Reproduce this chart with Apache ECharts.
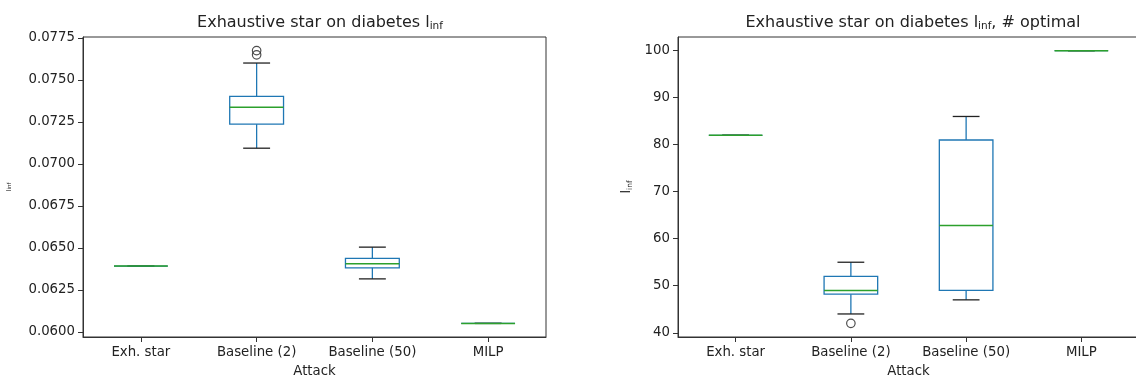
<!DOCTYPE html>
<html>
<head>
<meta charset="utf-8">
<script src="https://cdn.jsdelivr.net/npm/echarts@6/dist/echarts.min.js"></script>
<style>
html,body{margin:0;padding:0;background:#fff;}
#chart{width:1136px;height:380px;}
</style>
</head>
<body>
<div id="chart"></div>
<script>
// ---- data ----
const categories = ['Exh. star', 'Baseline (2)', 'Baseline (50)', 'MILP'];
// each entry: [lowerWhisker, Q1, median, Q3, upperWhisker]
const linfBoxes = [
  [0.06392, 0.06392, 0.06392, 0.06392, 0.06392],
  [0.07094, 0.07237, 0.07338, 0.07402, 0.07601],
  [0.06316, 0.06382, 0.06406, 0.06438, 0.06505],
  [0.06051, 0.06051, 0.06051, 0.06051, 0.06051]
];
const linfOutliers = [[1, 0.07675], [1, 0.07650]];
const linfTicks = [0.0600, 0.0625, 0.0650, 0.0675, 0.0700, 0.0725, 0.0750, 0.0775];

const optimalBoxes = [
  [82, 82, 82, 82, 82],
  [44, 48.2, 49, 52, 55],
  [47, 49, 62.8, 81, 86],
  [100, 100, 100, 100, 100]
];
const optimalOutliers = [[1, 42]];
const optimalTicks = [40, 50, 60, 70, 80, 90, 100];

// ---- chart ----
const BLUE = '#1f77b4', GREEN = '#2ca02c', DARK = '#222', AXIS = '#333';
const FONT = 'DejaVu Sans';
const FS = 13.3;

function boxData(boxes) {
  return boxes.map((b, i) => [i].concat(b));
}

function renderBox(params, api) {
  const x = api.value(0);
  const lo = api.coord([x, api.value(1)]);
  const q1 = api.coord([x, api.value(2)]);
  const md = api.coord([x, api.value(3)]);
  const q3 = api.coord([x, api.value(4)]);
  const hi = api.coord([x, api.value(5)]);
  const band = api.size([1, 0])[0];
  const bw = band * 0.465;
  const cw = bw / 2;
  const cx = md[0];
  const lw = 1.3;
  const line = (x1, y1, x2, y2, color, w) => ({
    type: 'line',
    shape: { x1, y1, x2, y2 },
    style: { stroke: color, lineWidth: w || lw }
  });
  return {
    type: 'group',
    children: [
      line(cx, q3[1], cx, hi[1], BLUE),
      line(cx, q1[1], cx, lo[1], BLUE),
      line(cx - cw / 2, hi[1], cx + cw / 2, hi[1], DARK),
      line(cx - cw / 2, lo[1], cx + cw / 2, lo[1], DARK),
      {
        type: 'rect',
        shape: { x: cx - bw / 2, y: q3[1], width: bw, height: q1[1] - q3[1] },
        style: { fill: 'none', stroke: BLUE, lineWidth: lw }
      },
      line(cx - bw / 2, md[1], cx + bw / 2, md[1], GREEN, 1.5)
    ]
  };
}

const titleStyle = {
  fontFamily: FONT, fontSize: 16, fontWeight: 'normal', color: DARK,
  rich: {
    m: { fontFamily: FONT, fontSize: 16, color: DARK },
    sub: { fontFamily: FONT, fontSize: 10.5, color: DARK, padding: [8, 0, 0, 0] }
  }
};

function xAxisCfg(gridIndex) {
  return {
    type: 'category', gridIndex, data: categories, boundaryGap: true,
    axisLine: { show: true, lineStyle: { color: AXIS, width: 1 } },
    axisTick: { show: true, alignWithLabel: true, length: 5, interval: 0, lineStyle: { color: AXIS } },
    axisLabel: { interval: 0, fontFamily: FONT, fontSize: FS, color: DARK, margin: 9 },
    splitLine: { show: false },
    name: 'Attack', nameLocation: 'middle', nameGap: 28,
    nameTextStyle: { fontFamily: FONT, fontSize: FS, color: DARK }
  };
}

const chart = echarts.init(document.getElementById('chart'), null, { renderer: 'canvas' });
chart.setOption({
  animation: false,
  backgroundColor: '#fff',
  title: [
    { text: '{m|Exhaustive star on diabetes l}{sub|inf}', left: 315, top: 8, textAlign: 'center', textStyle: titleStyle },
    { text: '{m|Exhaustive star on diabetes l}{sub|inf}{m|, # optimal}', left: 908, top: 8, textAlign: 'center', textStyle: titleStyle }
  ],
  grid: [
    { left: 83, top: 37, width: 463, height: 300, show: true, borderColor: AXIS, borderWidth: 1, backgroundColor: 'transparent', outerBoundsMode: 'none', containLabel: false },
    { left: 678, top: 37, width: 461, height: 300, show: true, borderColor: AXIS, borderWidth: 1, backgroundColor: 'transparent', outerBoundsMode: 'none', containLabel: false }
  ],
  xAxis: [xAxisCfg(0), xAxisCfg(1)],
  yAxis: [
    {
      type: 'value', gridIndex: 0, min: 0.0597, max: 0.07756,
      axisLine: { show: true, lineStyle: { color: AXIS } },
      axisTick: { show: true, length: 5, customValues: linfTicks, lineStyle: { color: AXIS } },
      axisLabel: { customValues: linfTicks, formatter: v => v.toFixed(4), fontFamily: FONT, fontSize: FS, color: DARK, margin: 8 },
      splitLine: { show: false },
      name: 'l{s|inf}', nameLocation: 'middle', nameRotate: 90, nameGap: 70,
      nameTextStyle: { fontFamily: FONT, fontSize: 6.5, color: DARK, rich: { s: { fontFamily: FONT, fontSize: 5.5, color: DARK } } }
    },
    {
      type: 'value', gridIndex: 1, min: 39.1, max: 102.9,
      axisLine: { show: true, lineStyle: { color: AXIS } },
      axisTick: { show: true, length: 5, customValues: optimalTicks, lineStyle: { color: AXIS } },
      axisLabel: { customValues: optimalTicks, fontFamily: FONT, fontSize: FS, color: DARK, margin: 8 },
      splitLine: { show: false },
      name: '{m|l}{s|inf}', nameLocation: 'middle', nameRotate: 90, nameGap: 44,
      nameTextStyle: { fontFamily: FONT, fontSize: 13, color: DARK,
        rich: { m: { fontFamily: FONT, fontSize: 13, color: DARK }, s: { fontFamily: FONT, fontSize: 7.5, color: DARK, padding: [6, 0, 0, 0] } } }
    }
  ],
  series: [
    {
      type: 'custom', xAxisIndex: 0, yAxisIndex: 0, renderItem: renderBox,
      data: boxData(linfBoxes), encode: { x: 0, y: [1, 2, 3, 4, 5] }, silent: true, clip: false
    },
    {
      type: 'scatter', xAxisIndex: 0, yAxisIndex: 0, data: linfOutliers,
      symbol: 'circle', symbolSize: 8.5, silent: true,
      itemStyle: { color: 'rgba(0,0,0,0)', borderColor: DARK, borderWidth: 1.2 }
    },
    {
      type: 'custom', xAxisIndex: 1, yAxisIndex: 1, renderItem: renderBox,
      data: boxData(optimalBoxes), encode: { x: 0, y: [1, 2, 3, 4, 5] }, silent: true, clip: false
    },
    {
      type: 'scatter', xAxisIndex: 1, yAxisIndex: 1, data: optimalOutliers,
      symbol: 'circle', symbolSize: 8.5, silent: true,
      itemStyle: { color: 'rgba(0,0,0,0)', borderColor: DARK, borderWidth: 1.2 }
    }
  ]
});
</script>
</body>
</html>
